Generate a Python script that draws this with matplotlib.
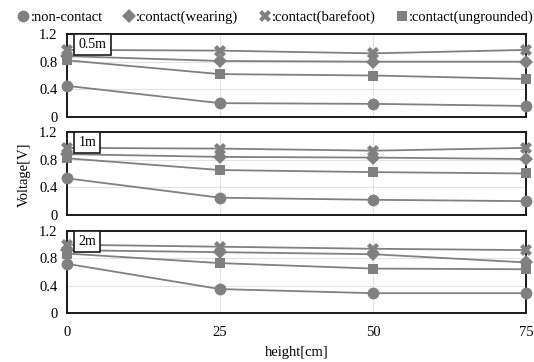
import numpy as np
import matplotlib
matplotlib.use('Agg')
import matplotlib.pyplot as plt
from matplotlib.lines import Line2D

plt.rcParams['font.family'] = ['Liberation Serif', 'DejaVu Serif']
plt.rcParams['font.size'] = 10.5

# data
height = [0, 25, 50, 75]
panels = ['0.5m', '1m', '2m']
series_names = [':non-contact', ':contact(wearing)', ':contact(barefoot)', ':contact(ungrounded)']

non_contact = [[0.45, 0.20, 0.19, 0.16],
               [0.53, 0.25, 0.22, 0.20],
               [0.72, 0.35, 0.29, 0.29]]
wearing = [[0.88, 0.81, 0.80, 0.80],
           [0.88, 0.84, 0.83, 0.81],
           [0.92, 0.89, 0.86, 0.74]]
barefoot = [[0.97, 0.96, 0.92, 0.97],
            [0.97, 0.96, 0.93, 0.97],
            [1.00, 0.97, 0.94, 0.92]]
ungrounded = [[0.82, 0.62, 0.60, 0.55],
              [0.82, 0.65, 0.62, 0.60],
              [0.87, 0.73, 0.65, 0.64]]

gray = '#808080'
styles = [('o', 8.5), ('D', 7), ('X', 9), ('s', 7)]

fig = plt.figure(figsize=(5.34, 3.62), dpi=100)
tops = [34, 132, 231]
bots = [117, 215, 313]
W, H = 534, 362
axes = []
for i in range(3):
    ax = fig.add_axes([67 / W, 1 - bots[i] / H, (526 - 67) / W, (bots[i] - tops[i]) / H])
    axes.append(ax)
    for data, (m, ms) in zip([non_contact, wearing, barefoot, ungrounded], styles):
        ax.plot(height, data[i], color=gray, lw=1.3, marker=m, ms=ms,
                markeredgewidth=0, clip_on=False, zorder=3)
    ax.set_xlim(0, 75)
    ax.set_ylim(0, 1.2)
    ax.set_yticks([0, 0.4, 0.8, 1.2])
    ax.set_yticklabels(['0', '0.4', '0.8', '1.2'])
    ax.set_xticks(height)
    ax.grid(True, color='#e3e3e3', lw=0.8)
    ax.set_axisbelow(True)
    for s in ax.spines.values():
        s.set_linewidth(1.4)
        s.set_color('#1a1a1a')
    ax.tick_params(length=0, pad=7)
    if i < 2:
        ax.tick_params(labelbottom=False)
    else:
        ax.tick_params(axis='x', pad=9)
    ax.text(0.025, 0.87, panels[i], transform=ax.transAxes, ha='left', va='center',
            fontsize=10, zorder=5,
            bbox=dict(boxstyle='square,pad=0.3', fc='white', ec='#1a1a1a', lw=1.2))

axes[2].set_xlabel('height[cm]', labelpad=5.5)
fig.text(24 / W, 1 - 175 / H, 'Voltage[V]', rotation=90, ha='center', va='center')

handles = [Line2D([], [], color=gray, marker=m, ms=ms, lw=0, markeredgewidth=0)
           for m, ms in styles]
fig.legend(handles, series_names, loc='center', bbox_to_anchor=(0.515, 1 - 17 / H),
           ncol=4, frameon=False, handlelength=1.0, handletextpad=0.0,
           columnspacing=1.3, fontsize=10.5, borderaxespad=0)

fig.savefig('out.png', dpi=100)
